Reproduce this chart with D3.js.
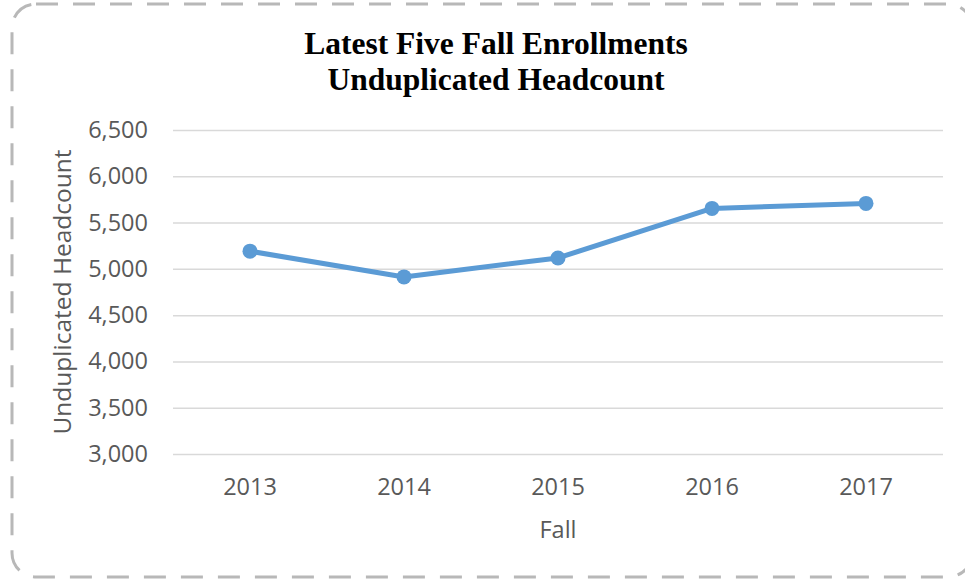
<!DOCTYPE html>
<html>
<head>
<meta charset="utf-8">
<script src="https://cdn.jsdelivr.net/npm/d3@7"></script>
<style>
  html, body { margin: 0; padding: 0; background: #fff; overflow: hidden; }
</style>
</head>
<body>
<svg id="chart" width="965" height="582"></svg>
<script>
// chart data
const years = ['2013', '2014', '2015', '2016', '2017'];
const headcount = [5191, 4913, 5118, 5653, 5707];
const yTicks = [3000, 3500, 4000, 4500, 5000, 5500, 6000, 6500];
const titleLines = ['Latest Five Fall Enrollments', 'Unduplicated Headcount'];

const svg = d3.select('#chart');
const margin = { top: 130, right: 22, bottom: 128, left: 173 };
const W = 965, H = 582;
const width = W - margin.left - margin.right;
const height = H - margin.top - margin.bottom;

// dashed rounded frame
svg.append('rect')
  .attr('x', 12).attr('y', 4)
  .attr('width', 960).attr('height', 573)
  .attr('rx', 24).attr('ry', 24)
  .attr('fill', 'none')
  .attr('stroke', '#b8b8b8')
  .attr('stroke-width', 3)
  .attr('stroke-dasharray', '22 15');

const x = d3.scaleBand().domain(years).range([0, width]);
const y = d3.scaleLinear().domain([3000, 6500]).range([height, 0]);

const g = svg.append('g').attr('transform', `translate(${margin.left},${margin.top})`);

// gridlines
g.append('g')
  .call(d3.axisLeft(y).tickValues(yTicks).tickSize(-width).tickFormat(''))
  .call(a => a.select('.domain').remove())
  .call(a => a.selectAll('line').attr('stroke', '#d9d9d9').attr('stroke-width', 1.5));

// y tick labels
g.append('g')
  .call(d3.axisLeft(y).tickValues(yTicks).tickSize(0).tickPadding(25).tickFormat(d3.format(',')))
  .call(a => a.select('.domain').remove())
  .call(a => a.selectAll('text')
    .attr('fill', '#595959')
    .style('font-family', '"Open Sans", sans-serif')
    .style('font-size', '23.5px'));

// x tick labels
g.append('g')
  .attr('transform', `translate(0,${height})`)
  .call(d3.axisBottom(x).tickSize(0).tickPadding(24))
  .call(a => a.select('.domain').remove())
  .call(a => a.selectAll('text')
    .attr('fill', '#595959')
    .style('font-family', '"Open Sans", sans-serif')
    .style('font-size', '23.5px'));

// line + markers
const line = d3.line()
  .x((d, i) => x(years[i]) + x.bandwidth() / 2)
  .y(d => y(d));

g.append('path')
  .datum(headcount)
  .attr('d', line)
  .attr('fill', 'none')
  .attr('stroke', '#5b9bd5')
  .attr('stroke-width', 5)
  .attr('stroke-linejoin', 'round');

g.selectAll('circle.pt')
  .data(headcount)
  .enter()
  .append('circle')
  .attr('class', 'pt')
  .attr('cx', (d, i) => x(years[i]) + x.bandwidth() / 2)
  .attr('cy', d => y(d))
  .attr('r', 7.5)
  .attr('fill', '#5b9bd5');

// title
svg.append('text')
  .attr('x', 496)
  .attr('text-anchor', 'middle')
  .style('font-family', '"Liberation Serif", "Times New Roman", serif')
  .style('font-weight', 'bold')
  .style('font-size', '31.5px')
  .attr('fill', '#000')
  .selectAll('tspan')
  .data(titleLines)
  .enter()
  .append('tspan')
  .attr('x', 496)
  .attr('y', (d, i) => 54 + i * 36)
  .text(d => d);

// axis titles
svg.append('text')
  .attr('x', margin.left + width / 2)
  .attr('y', 538)
  .attr('text-anchor', 'middle')
  .attr('fill', '#595959')
  .style('font-family', '"Open Sans", sans-serif')
  .style('font-size', '23.5px')
  .text('Fall');

svg.append('text')
  .attr('transform', `translate(71,${margin.top + 162}) rotate(-90)`)
  .attr('text-anchor', 'middle')
  .attr('fill', '#595959')
  .style('font-family', '"Open Sans", sans-serif')
  .style('font-size', '24.5px')
  .text('Unduplicated Headcount');
</script>
</body>
</html>
